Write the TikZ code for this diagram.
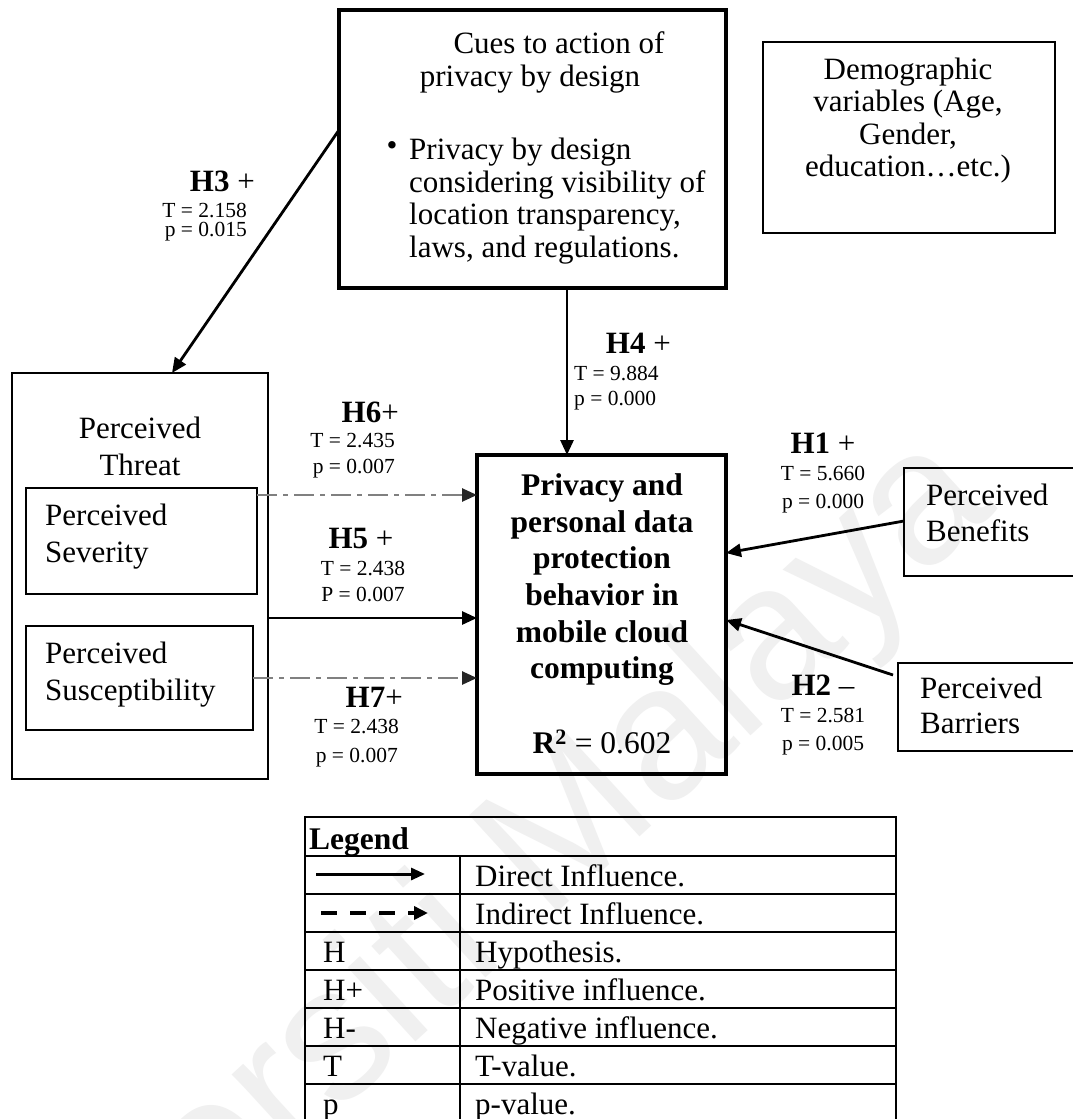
\documentclass[tikz,border=0pt]{standalone}
\usepackage{fontspec}
\setmainfont{Liberation Serif}
\newfontfamily\marksans{Liberation Sans}
\usetikzlibrary{arrows.meta,calc}

\begin{document}
\begin{tikzpicture}[x=1pt,y=-1pt,
  box/.style={draw, line width=1.8pt, inner sep=0pt, outer sep=0pt, anchor=north west},
  heavybox/.style={box, line width=3.6pt},
  body/.style={inner sep=0pt, font=\fontsize{31}{37}\selectfont},
  hyp/.style={inner sep=0pt, font=\fontsize{31}{36}\selectfont},
  stat/.style={inner sep=0pt, font=\fontsize{21.5}{26}\selectfont},
  legtext/.style={inner sep=0pt, anchor=base west, font=\fontsize{31}{36}\selectfont},
  direct/.style={line width=2.8pt, -{Triangle[length=15pt,width=13pt]}},
  indirect/.style={line width=2.6pt, draw=black!50, dash pattern=on 20pt off 6pt on 5pt off 6pt,
    -{Triangle[length=15pt,width=13pt,color=black!85,fill=black!85]}},
  tablerule/.style={line width=2pt},
  legsolid/.style={line width=3pt, -{Triangle[length=14pt,width=12pt]}},
  legdash/.style={line width=3.5pt, dash pattern=on 16pt off 13pt, -{Triangle[length=14pt,width=13pt]}},
]
\fill[white] (0,0) rectangle (1073,1119);
\useasboundingbox (0,0) rectangle (1073,1119);
\clip (0,0) rectangle (1073,1119);

% faint diagonal watermark behind the figure
\node[rotate=42.5, anchor=base west, inner sep=0pt, text=black!6,
      font=\marksans\fontsize{190}{190}\selectfont] (watermark) at (-68,1486) {Universiti Malaya};

% ---------- boxes ----------
\node[heavybox, minimum width=387pt, minimum height=278pt] (cues) at (339,10) {};
\node[box, minimum width=292pt, minimum height=191pt] (demo) at (763,42) {};
\node[box, minimum width=256pt, minimum height=406pt] (threat) at (12,373) {};
\node[box, minimum width=231pt, minimum height=106pt] (severity) at (26,488) {};
\node[box, minimum width=227pt, minimum height=104pt] (suscept) at (26,626) {};
\node[heavybox, minimum width=249pt, minimum height=319pt] (main) at (477,455) {};
\node[box, minimum width=200pt, minimum height=108pt] (benefits) at (904,468) {};
\node[box, minimum width=200pt, minimum height=88pt] (barriers) at (898,663) {};

% ---------- box texts ----------
\node[body, anchor=base] (cuesA) at (559,53) {Cues to action of};
\node[body, anchor=base] (cuesB) at (530,86) {privacy by design};
\node[inner sep=0pt, font=\fontsize{31}{31}\selectfont] (cuesDot) at (392,149) {\textbullet};
\node[body, anchor=north west, align=left, font=\fontsize{31}{32.7}\selectfont] (cuesC) at (409,137.8)
  {Privacy by design\\considering visibility of\\location transparency,\\laws, and regulations.};

\node[body, anchor=north, align=center, font=\fontsize{31}{32.5}\selectfont] (demoT) at (908,57.3)
  {Demographic\\variables (Age,\\Gender,\\education…etc.)};

\node[body, anchor=north, align=center] (threatT) at (140,416.8) {Perceived\\Threat};
\node[body, anchor=north west, align=left] (severityT) at (45,503.8) {Perceived\\Severity};
\node[body, anchor=north west, align=left] (susceptT) at (45,641.8) {Perceived\\Susceptibility};
\node[body, anchor=north west, align=left, font=\fontsize{31}{36}\selectfont] (benefitsT) at (926,483.8) {Perceived\\Benefits};
\node[body, anchor=north west, align=left, font=\fontsize{31}{35}\selectfont] (barriersT) at (920,676.8) {Perceived\\Barriers};

\node[inner sep=0pt, anchor=north, align=center, font=\bfseries\fontsize{31.5}{36.6}\selectfont] (mainT) at (602,473.7)
  {Privacy and\\personal data\\protection\\behavior in\\mobile cloud\\computing\\[38.4pt]R\textsuperscript{2} {\mdseries = 0.602}};

% ---------- connectors ----------
\draw[direct] (cues.west |- 0,130) -- (threat.north -| 172,0);
\draw[direct] (cues.south -| 567,0) -- (main.north -| 567,0);
\draw[indirect] (severity.east |- 0,495) -- (main.west |- 0,495);
\draw[direct] (threat.east |- 0,618) -- (main.west |- 0,618);
\draw[indirect] (suscept.east |- 0,678) -- (main.west |- 0,678);
\draw[direct] (benefits.west |- 0,521) -- (main.east |- 0,553);
\draw[direct] ($(barriers.west |- 0,675)+(-5,0)$) -- (main.east |- 0,620);

% ---------- path labels ----------
\node[hyp, anchor=base east] (h3) at (255,191) {\textbf{H3} +};
\node[stat, anchor=base east] (h3t) at (247,217) {T = 2.158};
\node[stat, anchor=base east] (h3p) at (247,236) {p = 0.015};

\node[hyp, anchor=base east] (h4) at (671,353) {\textbf{H4} +};
\node[stat, anchor=base west] (h4t) at (574,380) {T = 9.884};
\node[stat, anchor=base west] (h4p) at (574,405) {p = 0.000};

\node[hyp, anchor=base east] (h6) at (399,422) {\textbf{H6}+};
\node[stat, anchor=base east] (h6t) at (395,447) {T = 2.435};
\node[stat, anchor=base east] (h6p) at (395,473) {p = 0.007};

\node[hyp, anchor=base] (h5) at (361,548) {\textbf{H5} +};
\node[stat, anchor=base] (h5t) at (363,575) {T = 2.438};
\node[stat, anchor=base] (h5p) at (363,601) {P = 0.007};

\node[hyp, anchor=base east] (h7) at (403,707) {\textbf{H7}+};
\node[stat, anchor=base east] (h7t) at (399,733) {T = 2.438};
\node[stat, anchor=base east] (h7p) at (398,762) {p = 0.007};

\node[hyp, anchor=base] (h1) at (823,453) {\textbf{H1} +};
\node[stat, anchor=base] (h1t) at (823,480) {T = 5.660};
\node[stat, anchor=base] (h1p) at (823,508) {p = 0.000};

\node[hyp, anchor=base] (h2) at (823,695) {\textbf{H2} –};
\node[stat, anchor=base] (h2t) at (823,722) {T = 2.581};
\node[stat, anchor=base] (h2p) at (823,750) {p = 0.005};

% ---------- legend table ----------
\draw[tablerule] (305,817) rectangle (896,1140);
\foreach \yy in {856,894,932,970,1008,1046,1084}
  \draw[tablerule] (305,\yy) -- (896,\yy);
\draw[tablerule] (460,856) -- (460,1140);

\node[legtext, font=\bfseries\fontsize{31.5}{36}\selectfont] (legTitle) at (309,849) {Legend};
\coordinate (solidA) at (316,874);
\coordinate (solidB) at (425,874);
\draw[legsolid] (solidA) -- (solidB);
\coordinate (dashA) at (321,913);
\coordinate (dashB) at (428,913);
\draw[legdash] (dashA) -- (dashB);

\node[legtext] (legR1) at (475,886) {Direct Influence.};
\node[legtext] (legR2) at (475,924) {Indirect Influence.};
\node[legtext] (legL3) at (323,962) {H};
\node[legtext] (legR3) at (475,962) {Hypothesis.};
\node[legtext] (legL4) at (323,1000) {H+};
\node[legtext] (legR4) at (475,1000) {Positive influence.};
\node[legtext] (legL5) at (323,1038) {H-};
\node[legtext] (legR5) at (475,1038) {Negative influence.};
\node[legtext] (legL6) at (323,1076) {T};
\node[legtext] (legR6) at (475,1076) {T-value.};
\node[legtext] (legL7) at (323,1114) {p};
\node[legtext] (legR7) at (475,1114) {p-value.};
\end{tikzpicture}
\end{document}
